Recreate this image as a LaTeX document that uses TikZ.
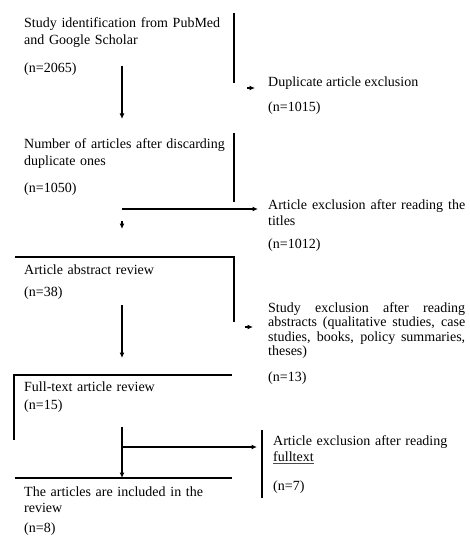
\documentclass[tikz,border=0pt]{standalone}
\usepackage{fontspec}
\setmainfont{Liberation Serif}
\usetikzlibrary{arrows.meta}
\hyphenpenalty=10000
\exhyphenpenalty=10000
\newcommand\bluul[1]{\leavevmode\setbox0\hbox{#1}\rlap{\color{blue!80}\rule[-2.5pt]{\wd0}{0.8pt}}\box0}
\begin{document}
\begin{tikzpicture}[x=1pt,y=-1pt,
  txt/.style={anchor=base west,inner sep=0pt,align=left,font=\fontsize{14}{16.5}\selectfont},
  ltxt/.style={txt,text width=207pt},
  rtxt/.style={txt,text width=197pt,align=justify},
  ln/.style={line width=1.1pt},
  arr/.style={ln,-{Latex[length=5.5pt,width=5pt]}}]
\useasboundingbox (0,0) rectangle (470,545);
% left column texts
\node[ltxt] (t1) at (24,28) {Study identification from PubMed and Google Scholar};
\node[txt] (t1n) at (24,73) {(n=2065)};
\node[ltxt] (t2) at (24,149) {Number of articles after discarding duplicate ones};
\node[txt] (t2n) at (24,193) {(n=1050)};
\node[ltxt] (t3) at (24,274) {Article abstract review};
\node[txt] (t3n) at (24,296) {(n=38)};
\node[ltxt] (t4) at (24,391) {Full-text article review};
\node[txt] (t4n) at (24,409) {(n=15)};
\node[ltxt] (t5) at (24,496) {The articles are included in the review};
\node[txt] (t5n) at (24,532) {(n=8)};
% right column texts
\node[rtxt] (r1) at (268,87) {Duplicate article exclusion};
\node[txt] (r1n) at (268,112) {(n=1015)};
\node[rtxt] (r2) at (268,209) {Article exclusion after reading the titles};
\node[txt] (r2n) at (268,248) {(n=1012)};
\node[rtxt,font=\fontsize{14}{14.5}\selectfont] (r3) at (268,312) {Study exclusion after reading abstracts (qualitative studies, case studies, books, policy summaries, theses)};
\node[txt] (r3n) at (268,381) {(n=13)};
\node[txt,text width=192pt] (r4) at (273,445) {Article exclusion after reading \bluul{fulltext}};
\node[txt] (r4n) at (273,490) {(n=7)};
% coordinates
\coordinate (v1a) at (234,13); \coordinate (v1b) at (234,83);
\coordinate (h1a) at (247,88); \coordinate (h1b) at (255,88);
\coordinate (d1a) at (122,66); \coordinate (d1b) at (122,119);
\coordinate (v2a) at (234,133); \coordinate (v2b) at (234,202);
\coordinate (h2a) at (122,209); \coordinate (h2b) at (258,209);
\coordinate (d2a) at (122,221); \coordinate (d2b) at (122,229);
\coordinate (b3a) at (15,257); \coordinate (b3b) at (234,257); \coordinate (b3c) at (234,322);
\coordinate (h3a) at (245,327); \coordinate (h3b) at (253,327);
\coordinate (d3a) at (122,305); \coordinate (d3b) at (122,358);
\coordinate (b4a) at (232,375); \coordinate (b4b) at (14,375); \coordinate (b4c) at (14,440);
\coordinate (d4a) at (122,427); \coordinate (d4b) at (122,478);
\coordinate (h4a) at (123,447); \coordinate (h4b) at (257,447);
\coordinate (v4a) at (262,430); \coordinate (v4b) at (262,498);
\coordinate (b5a) at (15,478); \coordinate (b5b) at (232,478);
% lines and arrows
\draw[ln] (v1a) -- (v1b);
\draw[arr] (h1a) -- (h1b);
\draw[arr] (d1a) -- (d1b);
\draw[ln] (v2a) -- (v2b);
\draw[arr] (h2a) -- (h2b);
\draw[arr] (d2a) -- (d2b);
\draw[ln] (b3a) -- (b3b) -- (b3c);
\draw[arr] (h3a) -- (h3b);
\draw[arr] (d3a) -- (d3b);
\draw[ln] (b4a) -- (b4b) -- (b4c);
\draw[arr] (d4a) -- (d4b);
\draw[arr] (h4a) -- (h4b);
\draw[ln] (v4a) -- (v4b);
\draw[ln] (b5a) -- (b5b);
\end{tikzpicture}
\end{document}
